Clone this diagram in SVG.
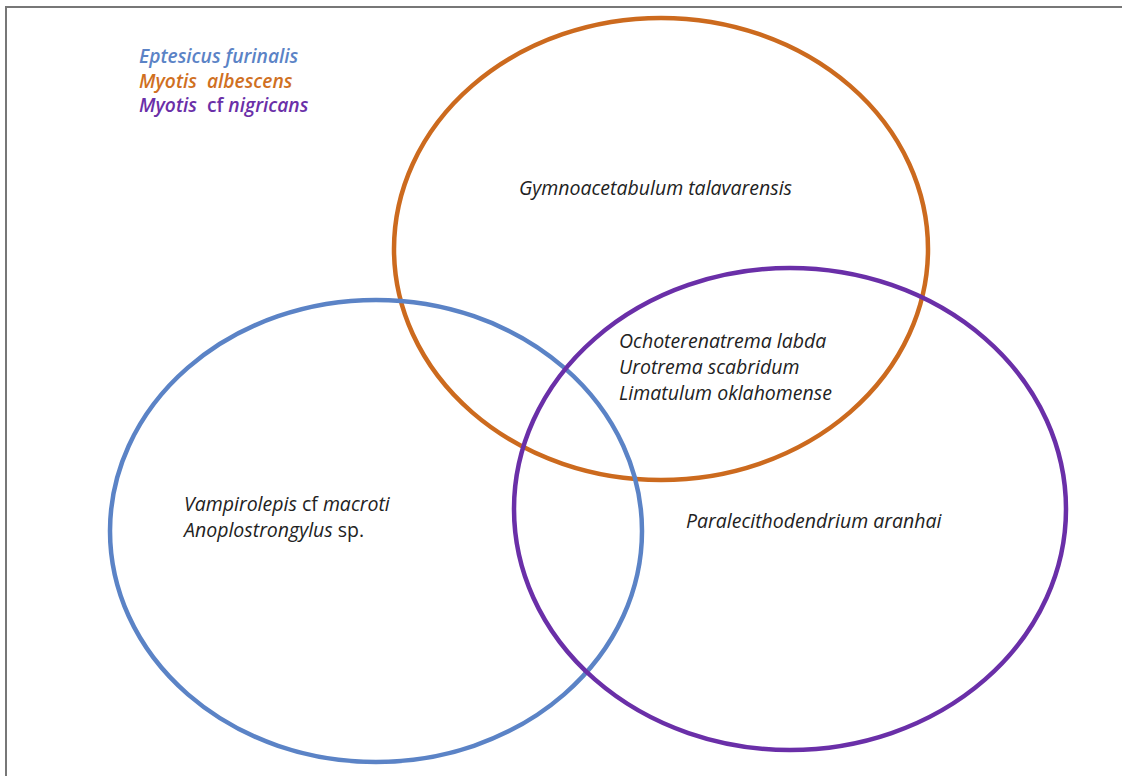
<svg xmlns="http://www.w3.org/2000/svg" width="1122" height="776" viewBox="0 0 1122 776">
<style>
.t{font-family:"Open Sans","Liberation Sans",sans-serif;font-size:19.5px;font-style:italic;fill:#222}
.u{font-style:normal}
.lg{font-family:"Open Sans","Liberation Sans",sans-serif;font-size:19.2px;font-style:italic;font-weight:600}
.e{fill:none;stroke-width:4.5}
</style>
<rect x="0" y="0" width="1122" height="776" fill="#fff"/>
<path d="M6,776 V7 H1122" fill="none" stroke="#777" stroke-width="2"/>
<g id="legend">
<text class="lg" x="139" y="63" fill="#5B83C6">Eptesicus furinalis</text>
<text class="lg" x="139" y="88" fill="#D0701F" xml:space="preserve">Myotis  albescens</text>
<text class="lg" x="139" y="112" fill="#6A2FA8" xml:space="preserve">Myotis  <tspan class="u">cf</tspan> nigricans</text>
</g>
<g id="ellipse-albescens">
<ellipse class="e" cx="661" cy="249" rx="267" ry="231" stroke="#CC6A1E"/>
<text class="t" x="519" y="195">Gymnoacetabulum talavarensis</text>
</g>
<g id="ellipse-furinalis">
<ellipse class="e" cx="376" cy="531" rx="266" ry="231" stroke="#5B83C6"/>
<text class="t" x="184" y="511">Vampirolepis <tspan class="u">cf</tspan> macroti</text>
<text class="t" x="184" y="537">Anoplostrongylus <tspan class="u">sp.</tspan></text>
</g>
<g id="ellipse-nigricans">
<ellipse class="e" cx="790" cy="509" rx="276" ry="241" stroke="#6A2FA8"/>
<text class="t" x="686" y="528">Paralecithodendrium aranhai</text>
</g>
<g id="overlap-albescens-nigricans">
<text class="t" x="619" y="348">Ochoterenatrema labda</text>
<text class="t" x="619" y="374">Urotrema scabridum</text>
<text class="t" x="619" y="400">Limatulum oklahomense</text>
</g>
<g id="connectors"/>
</svg>
